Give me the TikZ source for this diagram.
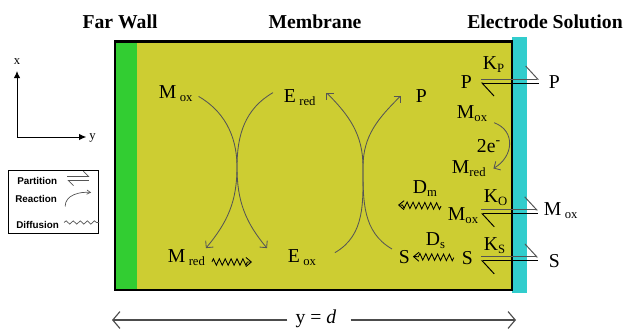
\documentclass[tikz,border=0pt]{standalone}
\usepackage{fontspec}
\setmainfont{Liberation Serif}
\setsansfont{Liberation Sans}
\usetikzlibrary{arrows.meta, positioning, calc, decorations.pathmorphing}
\definecolor{MembraneOlive}{RGB}{205, 205, 50}
\definecolor{WallGreen}{RGB}{50, 205, 50}
\definecolor{ElectrodeCyan}{RGB}{50, 205, 205}
\definecolor{ArcGrey}{RGB}{85, 85, 85}
\newcommand{\lo}[1]{\raisebox{-0.4ex}{\fontsize{9}{9}\selectfont #1}}

\begin{document}
\begin{tikzpicture}[x=0.025cm, y=0.025cm,
    title/.style={font=\fontsize{14}{16}\selectfont\bfseries, anchor=base},
    species/.style={font=\fontsize{14}{16}\selectfont, anchor=base west, inner sep=0.5pt},
    react/.style={draw=ArcGrey, line width=0.6pt, -{Straight Barb[angle=90:5pt]}},
    diffuse/.style={draw=black, line width=0.6pt, decorate,
        decoration={zigzag, segment length=4.2pt, amplitude=2.3pt, post length=3pt},
        -{Straight Barb[angle=80:5pt]}},
    fwd/.style={draw=ArcGrey, line width=0.7pt, -{Straight Barb[left, length=0.3cm, width=0.65cm]}},
    bwd/.style={draw=black, line width=0.7pt, {Straight Barb[left, length=0.3cm, width=0.65cm]}-},
    legend/.style={font=\sffamily\bfseries\fontsize{7}{8}\selectfont, anchor=base west, inner sep=0pt},
    dimarrow/.style={draw=black!70, line width=0.8pt, -{Straight Barb[length=0.18cm, width=0.42cm]}}]
    \useasboundingbox (0,0) rectangle (624,331);

    % membrane slab
    \fill[MembraneOlive] (115,41) rectangle (512,289.5);
    \fill[WallGreen] (116,42) rectangle (137,288.5);
    \fill[ElectrodeCyan] (512,38) rectangle (527,294);
    \draw[line width=2.1pt] (115,41) rectangle (512,289.5);

    \node[title] (farwall) at (120,303) {Far Wall};
    \node[title] (membrane) at (315,303) {Membrane};
    \node[title] (electrode) at (545,303) {Electrode Solution};

    % axes
    \coordinate (origin) at (17,194);
    \node[font=\fontsize{9}{10}\selectfont, anchor=south, inner sep=0pt] (xlab) at (17,266) {x};
    \node[font=\fontsize{9}{10}\selectfont, anchor=west, inner sep=0pt] (ylab) at (89,193) {y};
    \draw[line width=0.6pt, -{Latex[length=5pt, width=4.5pt]}, shorten >=0.15cm] (origin) -- (origin |- xlab.south);
    \draw[line width=0.6pt, -{Latex[length=5pt, width=4.5pt]}, shorten >=0.07cm] (origin) -- (origin -| ylab.west);

    % legend
    \node[draw, line width=0.6pt, minimum width=2.25cm, minimum height=1.575cm, inner sep=0pt] (legendbox) at (53,129.5) {};
    \node[legend] (partlbl) at (17,147) {Partition};
    \node[legend] (reactlbl) at (15,129) {Reaction};
    \node[legend] (difflbl) at (16,103) {Diffusion};
    \draw[draw=ArcGrey, line width=0.5pt, -{Straight Barb[left, length=0.13cm, width=0.26cm]}] ([shift={(0.25cm,0.1cm)}]partlbl.east) -- ++(22,0);
    \draw[draw=ArcGrey, line width=0.5pt, {Straight Barb[left, length=0.13cm, width=0.26cm]}-] ([shift={(0.25cm,0cm)}]partlbl.east) -- ++(22,0);
    \draw[draw=ArcGrey, line width=0.5pt, -{Straight Barb[angle=60:3pt]}] ([shift={(0.2cm,-0.2cm)}]reactlbl.east) to[out=90, in=175] ++(26,14);
    \draw[draw=ArcGrey, line width=0.5pt, decorate, decoration={snake, segment length=5pt, amplitude=1.2pt}] ([shift={(0.12cm,0.05cm)}]difflbl.east) -- ++(35,0);

    % species in the membrane
    \node[species] (Mox1) at (158,233) {M\,\lo{ox}};
    \node[species] (Ered) at (283,229) {E\,\lo{red}};
    \node[species] (P1) at (415,229) {P};
    \node[species] (Mred1) at (167,69) {M\,\lo{red}};
    \node[species] (Eox) at (287,69) {E\,\lo{ox}};
    \node[species] (S1) at (398,68) {S};
    \coordinate (touchA) at (237,164);
    \coordinate (touchB) at (363,164);
    \coordinate (mrTip) at (252,69);
    \coordinate (dmTip) at (398,126);

    \draw[react, shorten <=0.15cm] (Mox1.east) to[out=-30, in=90] (touchA) to[out=-90, in=50] (Mred1.north east);
    \draw[react] ([shift={(-0.25cm,0.12cm)}]Ered.west) to[out=210, in=90] (touchA) to[out=-90, in=130] ([shift={(-0.5cm,0cm)}]Eox.north west);
    \draw[react] ([shift={(0.45cm,0.12cm)}]Eox.east) to[out=30, in=-90] (touchB) to[out=90, in=-45] ([shift={(0.25cm,0.12cm)}]Ered.east);
    \draw[react] ([shift={(-0.15cm,0cm)}]S1.north west) to[out=150, in=-90] (touchB) to[out=90, in=225] ([shift={(-0.35cm,0cm)}]P1.west);
    \draw[diffuse] ([xshift=0.15cm]Mred1.base east) -- (mrTip);

    % electrode interface
    \node[species] (Kp) at (482,262) {K\lo{P}};
    \node[species] (Pin) at (460,243) {P};
    \node[species] (Pout) at (548,243) {P};
    \node[species] (Mox2) at (456,213) {M\lo{ox}};
    \node[species] (twoe) at (476,179) {2e\textsuperscript{-}};
    \node[species] (Mred2) at (451,158) {M\lo{red}};
    \node[species] (Dm) at (412,138) {D\lo{m}};
    \node[species] (Ko) at (483,129) {K\lo{O}};
    \node[species] (Mox3) at (447,111) {M\lo{ox}};
    \node[species] (Mox4) at (543,116) {M\,\lo{ox}};
    \node[species] (Ds) at (425,86) {D\lo{s}};
    \node[species] (Ks) at (483,81) {K\lo{S}};
    \node[species] (S2) at (461,67) {S};
    \node[species] (S3) at (548,64) {S};

    \draw[react] ([xshift=0.15cm]Mox2.south east) to[out=-20, in=30, looseness=1.3] ([xshift=0.17cm]Mred2.east);
    \draw[diffuse] ([xshift=-0.15cm]Mox3.north west) -- (dmTip);
    \draw[diffuse] ([xshift=-0.18cm]S2.west) -- ([xshift=0.05cm]S1.east);

    \draw[fwd, shorten <=0.2cm, shorten >=0.23cm] ($(Pin.east)+(0,2.5)$) -- ($(Pin.east -| Pout.west)+(0,2.5)$);
    \draw[bwd, shorten <=0.2cm, shorten >=0.23cm] ($(Pin.east)+(0,-1.5)$) -- ($(Pin.east -| Pout.west)+(0,-1.5)$);
    \draw[fwd, shorten <=0.05cm, shorten >=0.13cm] ($(Mox3.east)+(0,5.6)$) -- ($(Mox3.east -| Mox4.west)+(0,5.6)$);
    \draw[bwd, shorten <=0.05cm, shorten >=0.13cm] ($(Mox3.east)+(0,1.6)$) -- ($(Mox3.east -| Mox4.west)+(0,1.6)$);
    \draw[fwd, shorten <=0.18cm, shorten >=0.25cm] ($(S2.east)+(0,0.7)$) -- ($(S2.east -| S3.west)+(0,0.7)$);
    \draw[bwd, shorten <=0.18cm, shorten >=0.25cm] ($(S2.east)+(0,-3.3)$) -- ($(S2.east -| S3.west)+(0,-3.3)$);

    % thickness
    \node[font=\fontsize{14}{16}\selectfont, inner sep=0pt] (ydim) at (316,12) {y = \textit{d}};
    \coordinate (leftEnd) at (112,11);
    \coordinate (rightEnd) at (516,11);
    \draw[dimarrow, shorten <=0.2cm] (ydim.west |- leftEnd) -- (leftEnd);
    \draw[dimarrow, shorten <=0.35cm] (ydim.east |- rightEnd) -- (rightEnd);
\end{tikzpicture}
\end{document}
